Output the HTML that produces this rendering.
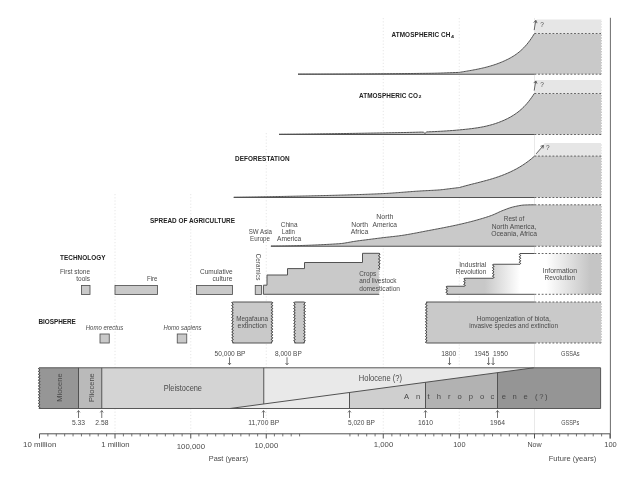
<!DOCTYPE html>
<html><head><meta charset="utf-8"><title>Anthropocene timeline</title>
<style>
html,body{margin:0;padding:0;background:#fff;}
body{width:640px;height:480px;overflow:hidden;}
svg{display:block;will-change:transform;font-family:"Liberation Sans",sans-serif;}
</style></head><body>
<svg width="640" height="480" viewBox="0 0 640 480">
<rect width="640" height="480" fill="#ffffff"/>
<line x1="115" y1="194" x2="115" y2="434" stroke="#e0e0e0" stroke-width="0.8" stroke-dasharray="1.2 2"/>
<line x1="190.75" y1="194" x2="190.75" y2="434" stroke="#e0e0e0" stroke-width="0.8" stroke-dasharray="1.2 2"/>
<line x1="266.25" y1="133" x2="266.25" y2="434" stroke="#e0e0e0" stroke-width="0.8" stroke-dasharray="1.2 2"/>
<line x1="383.25" y1="18" x2="383.25" y2="434" stroke="#e0e0e0" stroke-width="0.8" stroke-dasharray="1.2 2"/>
<line x1="459.25" y1="18" x2="459.25" y2="434" stroke="#e0e0e0" stroke-width="0.8" stroke-dasharray="1.2 2"/>
<line x1="534.5" y1="18" x2="534.5" y2="434" stroke="#e3e3e3" stroke-width="0.8"/>
<path d="M298.0,74.1 L299.5,74.1 L301.0,74.1 L302.5,74.1 L304.0,74.1 L305.5,74.1 L307.0,74.1 L308.5,74.09 L310.0,74.09 L311.5,74.09 L313.0,74.09 L314.5,74.09 L316.0,74.08 L317.5,74.08 L319.0,74.08 L320.5,74.08 L322.0,74.07 L323.5,74.07 L325.0,74.07 L326.5,74.06 L328.0,74.06 L329.5,74.05 L331.0,74.05 L332.5,74.04 L334.0,74.04 L335.5,74.03 L337.0,74.03 L338.5,74.02 L340.0,74.02 L341.5,74.01 L343.0,74.0 L344.5,74.0 L346.0,73.99 L347.5,73.98 L349.0,73.98 L350.5,73.97 L352.0,73.96 L353.5,73.95 L355.0,73.95 L356.5,73.94 L358.0,73.93 L359.5,73.92 L361.0,73.91 L362.5,73.9 L364.0,73.89 L365.5,73.89 L367.0,73.88 L368.5,73.87 L370.0,73.86 L371.5,73.85 L373.0,73.84 L374.5,73.83 L376.0,73.81 L377.5,73.8 L379.0,73.79 L380.5,73.78 L382.0,73.77 L383.5,73.76 L385.0,73.75 L386.5,73.73 L388.0,73.72 L389.5,73.71 L391.0,73.7 L392.5,73.68 L394.0,73.67 L395.5,73.66 L397.0,73.64 L398.5,73.63 L400.0,73.62 L401.5,73.6 L403.0,73.59 L404.5,73.57 L406.0,73.56 L407.5,73.54 L409.0,73.53 L410.5,73.51 L412.0,73.5 L413.5,73.48 L415.0,73.47 L416.5,73.45 L418.0,73.44 L419.5,73.42 L421.0,73.4 L422.5,73.39 L424.0,73.37 L425.5,73.35 L427.0,73.34 L428.5,73.32 L430.0,73.3 L431.5,73.28 L433.0,73.25 L434.5,73.23 L436.0,73.19 L437.5,73.15 L439.0,73.11 L440.5,73.07 L442.0,73.02 L443.5,72.97 L445.0,72.92 L446.5,72.87 L448.0,72.81 L449.5,72.76 L451.0,72.7 L452.5,72.65 L454.0,72.59 L455.5,72.53 L457.0,72.48 L458.5,72.42 L459.2,72.4 L460.7,72.15 L462.2,71.91 L463.7,71.66 L465.2,71.41 L466.7,71.16 L468.2,70.9 L469.7,70.64 L471.2,70.38 L472.7,70.1 L474.2,69.82 L475.7,69.54 L477.2,69.24 L478.7,68.93 L480.2,68.61 L481.7,68.27 L483.2,67.93 L484.7,67.57 L486.2,67.19 L487.7,66.79 L489.2,66.38 L490.7,65.95 L492.2,65.49 L493.7,65.02 L495.2,64.52 L496.7,64.0 L498.2,63.45 L499.7,62.87 L501.2,62.27 L502.7,61.64 L504.2,60.98 L505.7,60.28 L507.2,59.56 L508.7,58.8 L510.2,58.0 L511.7,57.15 L513.2,56.25 L514.7,55.29 L516.2,54.26 L517.7,53.15 L519.2,51.96 L520.7,50.68 L522.2,49.31 L523.7,47.82 L525.2,46.23 L526.7,44.52 L528.2,42.68 L529.7,40.7 L531.2,38.58 L532.7,36.31 L534.2,33.95 L534.3,33.8 L534.5,33.5 L602.0,33.5 L602.0,74.2 L298.0,74.2 Z" fill="#c9c9c9"/>
<path d="M534.5,33.5 L536.6,19.5 L602.0,19.5 L602.0,33.5 Z" fill="#e6e6e6"/>
<path d="M298.0,74.1 L299.5,74.1 L301.0,74.1 L302.5,74.1 L304.0,74.1 L305.5,74.1 L307.0,74.1 L308.5,74.09 L310.0,74.09 L311.5,74.09 L313.0,74.09 L314.5,74.09 L316.0,74.08 L317.5,74.08 L319.0,74.08 L320.5,74.08 L322.0,74.07 L323.5,74.07 L325.0,74.07 L326.5,74.06 L328.0,74.06 L329.5,74.05 L331.0,74.05 L332.5,74.04 L334.0,74.04 L335.5,74.03 L337.0,74.03 L338.5,74.02 L340.0,74.02 L341.5,74.01 L343.0,74.0 L344.5,74.0 L346.0,73.99 L347.5,73.98 L349.0,73.98 L350.5,73.97 L352.0,73.96 L353.5,73.95 L355.0,73.95 L356.5,73.94 L358.0,73.93 L359.5,73.92 L361.0,73.91 L362.5,73.9 L364.0,73.89 L365.5,73.89 L367.0,73.88 L368.5,73.87 L370.0,73.86 L371.5,73.85 L373.0,73.84 L374.5,73.83 L376.0,73.81 L377.5,73.8 L379.0,73.79 L380.5,73.78 L382.0,73.77 L383.5,73.76 L385.0,73.75 L386.5,73.73 L388.0,73.72 L389.5,73.71 L391.0,73.7 L392.5,73.68 L394.0,73.67 L395.5,73.66 L397.0,73.64 L398.5,73.63 L400.0,73.62 L401.5,73.6 L403.0,73.59 L404.5,73.57 L406.0,73.56 L407.5,73.54 L409.0,73.53 L410.5,73.51 L412.0,73.5 L413.5,73.48 L415.0,73.47 L416.5,73.45 L418.0,73.44 L419.5,73.42 L421.0,73.4 L422.5,73.39 L424.0,73.37 L425.5,73.35 L427.0,73.34 L428.5,73.32 L430.0,73.3 L431.5,73.28 L433.0,73.25 L434.5,73.23 L436.0,73.19 L437.5,73.15 L439.0,73.11 L440.5,73.07 L442.0,73.02 L443.5,72.97 L445.0,72.92 L446.5,72.87 L448.0,72.81 L449.5,72.76 L451.0,72.7 L452.5,72.65 L454.0,72.59 L455.5,72.53 L457.0,72.48 L458.5,72.42 L459.2,72.4 L460.7,72.15 L462.2,71.91 L463.7,71.66 L465.2,71.41 L466.7,71.16 L468.2,70.9 L469.7,70.64 L471.2,70.38 L472.7,70.1 L474.2,69.82 L475.7,69.54 L477.2,69.24 L478.7,68.93 L480.2,68.61 L481.7,68.27 L483.2,67.93 L484.7,67.57 L486.2,67.19 L487.7,66.79 L489.2,66.38 L490.7,65.95 L492.2,65.49 L493.7,65.02 L495.2,64.52 L496.7,64.0 L498.2,63.45 L499.7,62.87 L501.2,62.27 L502.7,61.64 L504.2,60.98 L505.7,60.28 L507.2,59.56 L508.7,58.8 L510.2,58.0 L511.7,57.15 L513.2,56.25 L514.7,55.29 L516.2,54.26 L517.7,53.15 L519.2,51.96 L520.7,50.68 L522.2,49.31 L523.7,47.82 L525.2,46.23 L526.7,44.52 L528.2,42.68 L529.7,40.7 L531.2,38.58 L532.7,36.31 L534.2,33.95 L534.3,33.8 L534.5,33.5" fill="none" stroke="#525252" stroke-width="1" stroke-linejoin="round"/>
<line x1="298.0" y1="74.2" x2="534.5" y2="74.2" stroke="#525252" stroke-width="1.1"/>
<line x1="534.5" y1="33.5" x2="601.25" y2="33.5" stroke="#525252" stroke-width="0.9" stroke-dasharray="1.8 1.8"/>
<line x1="534.5" y1="74.2" x2="601.25" y2="74.2" stroke="#525252" stroke-width="0.9" stroke-dasharray="1.8 1.8"/>
<line x1="601.55" y1="19.5" x2="601.55" y2="74.2" stroke="#ffffff" stroke-width="1.1" stroke-dasharray="1.3 1.45"/>
<path d="M279.0,134.2 L280.5,134.19 L282.0,134.18 L283.5,134.18 L285.0,134.17 L286.5,134.16 L288.0,134.15 L289.5,134.14 L291.0,134.13 L292.5,134.12 L294.0,134.11 L295.5,134.1 L297.0,134.08 L298.5,134.07 L300.0,134.06 L301.5,134.05 L303.0,134.03 L304.5,134.02 L306.0,134.0 L307.5,133.99 L309.0,133.97 L310.5,133.96 L312.0,133.94 L313.5,133.93 L315.0,133.91 L316.5,133.89 L318.0,133.88 L319.5,133.86 L321.0,133.84 L322.5,133.82 L324.0,133.81 L325.5,133.79 L327.0,133.77 L328.5,133.75 L330.0,133.73 L331.5,133.71 L333.0,133.69 L334.5,133.67 L336.0,133.65 L337.5,133.63 L339.0,133.61 L340.5,133.59 L342.0,133.57 L343.5,133.54 L345.0,133.52 L346.5,133.5 L348.0,133.48 L349.5,133.45 L351.0,133.43 L352.5,133.41 L354.0,133.39 L355.5,133.36 L357.0,133.34 L358.5,133.31 L360.0,133.29 L361.5,133.27 L363.0,133.24 L364.5,133.22 L366.0,133.19 L367.5,133.17 L369.0,133.14 L370.5,133.12 L372.0,133.09 L373.5,133.07 L375.0,133.04 L376.5,133.02 L378.0,132.99 L379.5,132.96 L381.0,132.94 L382.5,132.91 L384.0,132.88 L385.5,132.86 L387.0,132.83 L388.5,132.81 L390.0,132.78 L391.5,132.75 L393.0,132.73 L394.5,132.7 L396.0,132.67 L397.5,132.64 L399.0,132.62 L400.5,132.59 L402.0,132.56 L403.5,132.53 L405.0,132.5 L406.5,132.47 L408.0,132.43 L409.5,132.4 L411.0,132.36 L412.5,132.33 L414.0,132.29 L415.5,132.25 L417.0,132.21 L418.5,132.18 L420.0,132.14 L421.5,132.1 L423.4,132.2 L425,133.5 L426.6,132.0 L427.0,131.9 L428.5,131.84 L430.0,131.78 L431.5,131.72 L433.0,131.65 L434.5,131.58 L436.0,131.51 L437.5,131.43 L439.0,131.35 L440.5,131.27 L442.0,131.19 L443.5,131.1 L445.0,131.01 L446.5,130.91 L448.0,130.81 L449.5,130.71 L451.0,130.6 L452.5,130.49 L454.0,130.38 L455.0,130.3 L456.5,130.16 L458.0,130.02 L459.5,129.89 L461.0,129.75 L462.5,129.6 L464.0,129.46 L465.5,129.3 L467.0,129.15 L468.5,128.98 L470.0,128.81 L471.5,128.63 L473.0,128.43 L474.5,128.23 L476.0,128.01 L477.5,127.78 L479.0,127.54 L480.5,127.28 L482.0,127.0 L483.5,126.7 L485.0,126.38 L486.5,126.05 L488.0,125.69 L489.5,125.31 L491.0,124.91 L492.5,124.48 L494.0,124.02 L495.5,123.54 L497.0,123.03 L498.5,122.49 L500.0,121.92 L501.5,121.32 L503.0,120.69 L504.5,120.02 L506.0,119.32 L507.5,118.58 L509.0,117.81 L510.5,116.99 L512.0,116.12 L513.5,115.2 L515.0,114.22 L516.5,113.17 L518.0,112.05 L519.5,110.84 L521.0,109.56 L522.5,108.18 L524.0,106.71 L525.5,105.13 L527.0,103.45 L528.5,101.65 L530.0,99.73 L531.5,97.68 L533.0,95.51 L534.3,93.51 L534.5,93.5 L602.0,93.5 L602.0,134.5 L279.0,134.5 Z" fill="#c9c9c9"/>
<path d="M534.5,93.5 L536.6,80 L602.0,80 L602.0,93.5 Z" fill="#e6e6e6"/>
<path d="M279.0,134.2 L280.5,134.19 L282.0,134.18 L283.5,134.18 L285.0,134.17 L286.5,134.16 L288.0,134.15 L289.5,134.14 L291.0,134.13 L292.5,134.12 L294.0,134.11 L295.5,134.1 L297.0,134.08 L298.5,134.07 L300.0,134.06 L301.5,134.05 L303.0,134.03 L304.5,134.02 L306.0,134.0 L307.5,133.99 L309.0,133.97 L310.5,133.96 L312.0,133.94 L313.5,133.93 L315.0,133.91 L316.5,133.89 L318.0,133.88 L319.5,133.86 L321.0,133.84 L322.5,133.82 L324.0,133.81 L325.5,133.79 L327.0,133.77 L328.5,133.75 L330.0,133.73 L331.5,133.71 L333.0,133.69 L334.5,133.67 L336.0,133.65 L337.5,133.63 L339.0,133.61 L340.5,133.59 L342.0,133.57 L343.5,133.54 L345.0,133.52 L346.5,133.5 L348.0,133.48 L349.5,133.45 L351.0,133.43 L352.5,133.41 L354.0,133.39 L355.5,133.36 L357.0,133.34 L358.5,133.31 L360.0,133.29 L361.5,133.27 L363.0,133.24 L364.5,133.22 L366.0,133.19 L367.5,133.17 L369.0,133.14 L370.5,133.12 L372.0,133.09 L373.5,133.07 L375.0,133.04 L376.5,133.02 L378.0,132.99 L379.5,132.96 L381.0,132.94 L382.5,132.91 L384.0,132.88 L385.5,132.86 L387.0,132.83 L388.5,132.81 L390.0,132.78 L391.5,132.75 L393.0,132.73 L394.5,132.7 L396.0,132.67 L397.5,132.64 L399.0,132.62 L400.5,132.59 L402.0,132.56 L403.5,132.53 L405.0,132.5 L406.5,132.47 L408.0,132.43 L409.5,132.4 L411.0,132.36 L412.5,132.33 L414.0,132.29 L415.5,132.25 L417.0,132.21 L418.5,132.18 L420.0,132.14 L421.5,132.1 L423.4,132.2 L425,133.5 L426.6,132.0 L427.0,131.9 L428.5,131.84 L430.0,131.78 L431.5,131.72 L433.0,131.65 L434.5,131.58 L436.0,131.51 L437.5,131.43 L439.0,131.35 L440.5,131.27 L442.0,131.19 L443.5,131.1 L445.0,131.01 L446.5,130.91 L448.0,130.81 L449.5,130.71 L451.0,130.6 L452.5,130.49 L454.0,130.38 L455.0,130.3 L456.5,130.16 L458.0,130.02 L459.5,129.89 L461.0,129.75 L462.5,129.6 L464.0,129.46 L465.5,129.3 L467.0,129.15 L468.5,128.98 L470.0,128.81 L471.5,128.63 L473.0,128.43 L474.5,128.23 L476.0,128.01 L477.5,127.78 L479.0,127.54 L480.5,127.28 L482.0,127.0 L483.5,126.7 L485.0,126.38 L486.5,126.05 L488.0,125.69 L489.5,125.31 L491.0,124.91 L492.5,124.48 L494.0,124.02 L495.5,123.54 L497.0,123.03 L498.5,122.49 L500.0,121.92 L501.5,121.32 L503.0,120.69 L504.5,120.02 L506.0,119.32 L507.5,118.58 L509.0,117.81 L510.5,116.99 L512.0,116.12 L513.5,115.2 L515.0,114.22 L516.5,113.17 L518.0,112.05 L519.5,110.84 L521.0,109.56 L522.5,108.18 L524.0,106.71 L525.5,105.13 L527.0,103.45 L528.5,101.65 L530.0,99.73 L531.5,97.68 L533.0,95.51 L534.3,93.51 L534.5,93.5" fill="none" stroke="#525252" stroke-width="1" stroke-linejoin="round"/>
<line x1="279.0" y1="134.5" x2="534.5" y2="134.5" stroke="#525252" stroke-width="1.1"/>
<line x1="534.5" y1="93.5" x2="601.25" y2="93.5" stroke="#525252" stroke-width="0.9" stroke-dasharray="1.8 1.8"/>
<line x1="534.5" y1="134.5" x2="601.25" y2="134.5" stroke="#525252" stroke-width="0.9" stroke-dasharray="1.8 1.8"/>
<line x1="601.55" y1="80" x2="601.55" y2="134.5" stroke="#ffffff" stroke-width="1.1" stroke-dasharray="1.3 1.45"/>
<path d="M233.75,197.2 L235.25,197.18 L236.75,197.17 L238.25,197.15 L239.75,197.13 L241.25,197.11 L242.75,197.09 L244.25,197.07 L245.75,197.06 L247.25,197.04 L248.75,197.01 L250.25,196.99 L251.75,196.97 L253.25,196.95 L254.75,196.93 L256.25,196.91 L257.75,196.88 L259.25,196.86 L260.75,196.84 L262.25,196.81 L263.75,196.79 L265.25,196.76 L266.75,196.74 L268.25,196.71 L269.75,196.69 L271.25,196.66 L272.75,196.63 L274.25,196.61 L275.75,196.58 L277.25,196.55 L278.75,196.52 L280.25,196.49 L281.75,196.47 L283.25,196.44 L284.75,196.41 L286.25,196.38 L287.75,196.35 L289.25,196.32 L290.75,196.29 L292.25,196.26 L293.75,196.23 L295.25,196.2 L296.75,196.17 L298.25,196.14 L299.75,196.11 L301.25,196.07 L302.75,196.04 L304.25,196.01 L305.75,195.98 L307.25,195.95 L308.75,195.91 L310.25,195.88 L311.75,195.85 L313.25,195.81 L314.75,195.78 L316.25,195.74 L317.75,195.71 L319.25,195.68 L320.75,195.64 L322.25,195.6 L323.75,195.57 L325.25,195.53 L326.75,195.49 L328.25,195.46 L329.75,195.42 L331.25,195.38 L332.75,195.34 L334.25,195.3 L335.75,195.26 L337.25,195.22 L338.75,195.18 L340.25,195.14 L341.75,195.1 L343.25,195.05 L344.75,195.01 L346.25,194.96 L347.75,194.92 L349.25,194.87 L350.75,194.83 L352.25,194.78 L353.75,194.73 L355.25,194.68 L356.75,194.63 L358.25,194.58 L359.75,194.53 L361.25,194.48 L362.75,194.43 L364.25,194.37 L365.75,194.32 L367.25,194.26 L368.75,194.21 L370.25,194.15 L371.75,194.09 L373.25,194.03 L374.75,193.97 L376.25,193.91 L377.75,193.85 L379.25,193.78 L380.75,193.72 L382.25,193.65 L383.75,193.57 L385.25,193.49 L386.75,193.4 L388.25,193.31 L389.75,193.21 L391.25,193.11 L392.75,193.01 L394.25,192.9 L395.75,192.79 L397.25,192.68 L398.75,192.57 L400.25,192.45 L401.75,192.33 L403.25,192.22 L404.75,192.1 L406.25,191.99 L407.75,191.87 L409.25,191.75 L410.75,191.64 L412.25,191.53 L413.75,191.42 L415.25,191.31 L416.75,191.21 L418.25,191.11 L419.75,191.02 L421.25,190.92 L422.75,190.84 L424.25,190.76 L425.75,190.68 L427.25,190.61 L428.75,190.53 L430.25,190.46 L431.75,190.38 L433.25,190.3 L434.75,190.21 L436.25,190.12 L437.75,190.02 L439.25,189.91 L440.75,189.79 L442.25,189.64 L443.75,189.46 L445.25,189.28 L446.75,189.08 L448.25,188.89 L449.75,188.71 L451.25,188.53 L452.75,188.34 L454.25,188.16 L455.75,187.97 L457.25,187.78 L458.75,187.6 L459.5,187.5 L461.0,187.07 L462.5,186.65 L464.0,186.24 L465.5,185.84 L467.0,185.44 L468.5,185.05 L470.0,184.66 L471.5,184.28 L473.0,183.9 L474.5,183.52 L476.0,183.14 L477.5,182.76 L479.0,182.38 L480.5,181.99 L482.0,181.6 L483.5,181.21 L485.0,180.81 L486.5,180.4 L488.0,179.98 L489.5,179.55 L491.0,179.11 L492.5,178.66 L494.0,178.19 L495.5,177.71 L497.0,177.21 L498.5,176.7 L500.0,176.17 L501.5,175.62 L503.0,175.05 L504.5,174.46 L506.0,173.84 L507.5,173.21 L509.0,172.54 L510.5,171.85 L512.0,171.14 L513.5,170.39 L515.0,169.62 L516.5,168.82 L518.0,167.98 L519.5,167.11 L521.0,166.21 L522.5,165.27 L524.0,164.29 L525.5,163.26 L527.0,162.2 L528.5,161.08 L530.0,159.92 L531.5,158.7 L533.0,157.43 L534.5,156.11 L602.0,156.1 L602.0,197.5 L233.75,197.5 Z" fill="#c9c9c9"/>
<path d="M534.5,156.1 L544.6,143 L602.0,143 L602.0,156.1 Z" fill="#e6e6e6"/>
<path d="M233.75,197.2 L235.25,197.18 L236.75,197.17 L238.25,197.15 L239.75,197.13 L241.25,197.11 L242.75,197.09 L244.25,197.07 L245.75,197.06 L247.25,197.04 L248.75,197.01 L250.25,196.99 L251.75,196.97 L253.25,196.95 L254.75,196.93 L256.25,196.91 L257.75,196.88 L259.25,196.86 L260.75,196.84 L262.25,196.81 L263.75,196.79 L265.25,196.76 L266.75,196.74 L268.25,196.71 L269.75,196.69 L271.25,196.66 L272.75,196.63 L274.25,196.61 L275.75,196.58 L277.25,196.55 L278.75,196.52 L280.25,196.49 L281.75,196.47 L283.25,196.44 L284.75,196.41 L286.25,196.38 L287.75,196.35 L289.25,196.32 L290.75,196.29 L292.25,196.26 L293.75,196.23 L295.25,196.2 L296.75,196.17 L298.25,196.14 L299.75,196.11 L301.25,196.07 L302.75,196.04 L304.25,196.01 L305.75,195.98 L307.25,195.95 L308.75,195.91 L310.25,195.88 L311.75,195.85 L313.25,195.81 L314.75,195.78 L316.25,195.74 L317.75,195.71 L319.25,195.68 L320.75,195.64 L322.25,195.6 L323.75,195.57 L325.25,195.53 L326.75,195.49 L328.25,195.46 L329.75,195.42 L331.25,195.38 L332.75,195.34 L334.25,195.3 L335.75,195.26 L337.25,195.22 L338.75,195.18 L340.25,195.14 L341.75,195.1 L343.25,195.05 L344.75,195.01 L346.25,194.96 L347.75,194.92 L349.25,194.87 L350.75,194.83 L352.25,194.78 L353.75,194.73 L355.25,194.68 L356.75,194.63 L358.25,194.58 L359.75,194.53 L361.25,194.48 L362.75,194.43 L364.25,194.37 L365.75,194.32 L367.25,194.26 L368.75,194.21 L370.25,194.15 L371.75,194.09 L373.25,194.03 L374.75,193.97 L376.25,193.91 L377.75,193.85 L379.25,193.78 L380.75,193.72 L382.25,193.65 L383.75,193.57 L385.25,193.49 L386.75,193.4 L388.25,193.31 L389.75,193.21 L391.25,193.11 L392.75,193.01 L394.25,192.9 L395.75,192.79 L397.25,192.68 L398.75,192.57 L400.25,192.45 L401.75,192.33 L403.25,192.22 L404.75,192.1 L406.25,191.99 L407.75,191.87 L409.25,191.75 L410.75,191.64 L412.25,191.53 L413.75,191.42 L415.25,191.31 L416.75,191.21 L418.25,191.11 L419.75,191.02 L421.25,190.92 L422.75,190.84 L424.25,190.76 L425.75,190.68 L427.25,190.61 L428.75,190.53 L430.25,190.46 L431.75,190.38 L433.25,190.3 L434.75,190.21 L436.25,190.12 L437.75,190.02 L439.25,189.91 L440.75,189.79 L442.25,189.64 L443.75,189.46 L445.25,189.28 L446.75,189.08 L448.25,188.89 L449.75,188.71 L451.25,188.53 L452.75,188.34 L454.25,188.16 L455.75,187.97 L457.25,187.78 L458.75,187.6 L459.5,187.5 L461.0,187.07 L462.5,186.65 L464.0,186.24 L465.5,185.84 L467.0,185.44 L468.5,185.05 L470.0,184.66 L471.5,184.28 L473.0,183.9 L474.5,183.52 L476.0,183.14 L477.5,182.76 L479.0,182.38 L480.5,181.99 L482.0,181.6 L483.5,181.21 L485.0,180.81 L486.5,180.4 L488.0,179.98 L489.5,179.55 L491.0,179.11 L492.5,178.66 L494.0,178.19 L495.5,177.71 L497.0,177.21 L498.5,176.7 L500.0,176.17 L501.5,175.62 L503.0,175.05 L504.5,174.46 L506.0,173.84 L507.5,173.21 L509.0,172.54 L510.5,171.85 L512.0,171.14 L513.5,170.39 L515.0,169.62 L516.5,168.82 L518.0,167.98 L519.5,167.11 L521.0,166.21 L522.5,165.27 L524.0,164.29 L525.5,163.26 L527.0,162.2 L528.5,161.08 L530.0,159.92 L531.5,158.7 L533.0,157.43 L534.5,156.11" fill="none" stroke="#525252" stroke-width="1" stroke-linejoin="round"/>
<line x1="233.75" y1="197.5" x2="534.5" y2="197.5" stroke="#525252" stroke-width="1.1"/>
<line x1="534.5" y1="156.1" x2="601.25" y2="156.1" stroke="#525252" stroke-width="0.9" stroke-dasharray="1.8 1.8"/>
<line x1="534.5" y1="197.5" x2="601.25" y2="197.5" stroke="#525252" stroke-width="0.9" stroke-dasharray="1.8 1.8"/>
<line x1="601.55" y1="143" x2="601.55" y2="197.5" stroke="#ffffff" stroke-width="1.1" stroke-dasharray="1.3 1.45"/>
<path d="M270.9,246.0 L272.4,246.0 L273.9,246.0 L275.4,245.99 L276.9,245.98 L278.4,245.97 L279.9,245.96 L281.4,245.94 L282.9,245.92 L284.4,245.9 L285.9,245.88 L287.4,245.85 L288.9,245.83 L290.4,245.8 L291.9,245.77 L293.4,245.73 L294.9,245.7 L296.4,245.66 L297.9,245.62 L299.4,245.57 L300.9,245.53 L302.4,245.48 L303.9,245.43 L305.4,245.38 L306.9,245.33 L308.4,245.27 L309.9,245.22 L311.4,245.16 L312.9,245.1 L314.4,245.03 L315.9,244.97 L317.4,244.9 L318.9,244.83 L320.4,244.76 L321.9,244.69 L323.4,244.62 L324.9,244.54 L326.4,244.46 L327.9,244.38 L329.4,244.3 L330.9,244.22 L332.4,244.13 L333.9,244.04 L335.4,243.95 L336.9,243.86 L338.4,243.77 L339.9,243.66 L341.4,243.51 L342.9,243.33 L344.4,243.11 L345.9,242.87 L347.4,242.61 L348.9,242.34 L350.4,242.07 L351.9,241.8 L353.4,241.54 L354.9,241.3 L356.4,241.08 L357.9,240.87 L359.4,240.67 L360.9,240.48 L362.4,240.29 L363.9,240.1 L365.4,239.91 L366.9,239.72 L368.4,239.53 L369.9,239.34 L371.4,239.14 L372.9,238.95 L374.4,238.76 L375.9,238.56 L377.4,238.37 L378.9,238.18 L380.4,237.99 L381.9,237.81 L383.4,237.62 L384.9,237.45 L386.4,237.27 L387.9,237.11 L389.4,236.94 L390.9,236.78 L392.4,236.62 L393.9,236.45 L395.4,236.28 L396.9,236.1 L398.4,235.91 L399.9,235.71 L401.4,235.5 L402.9,235.28 L404.4,235.05 L405.9,234.8 L407.4,234.55 L408.9,234.29 L410.4,234.03 L411.9,233.76 L413.4,233.48 L414.9,233.2 L416.4,232.91 L417.9,232.63 L419.4,232.34 L420.9,232.04 L422.4,231.75 L423.9,231.46 L425.4,231.17 L426.9,230.88 L428.4,230.6 L429.9,230.32 L431.4,230.03 L432.9,229.75 L434.4,229.47 L435.9,229.18 L437.4,228.9 L438.9,228.61 L440.4,228.33 L441.9,228.04 L443.4,227.74 L444.9,227.45 L446.4,227.15 L447.9,226.85 L449.4,226.55 L450.9,226.24 L452.4,225.93 L453.9,225.61 L455.4,225.29 L456.9,224.97 L458.4,224.63 L459.9,224.3 L461.4,223.95 L462.9,223.61 L464.4,223.25 L465.9,222.89 L467.4,222.52 L468.9,222.14 L470.4,221.76 L471.9,221.37 L473.4,220.97 L474.9,220.57 L476.4,220.16 L477.9,219.74 L479.4,219.31 L480.9,218.88 L482.4,218.43 L483.9,217.98 L485.4,217.52 L486.9,217.03 L488.4,216.54 L489.9,216.02 L491.4,215.48 L492.9,214.91 L494.4,214.28 L495.9,213.6 L497.4,212.89 L498.9,212.19 L500.4,211.5 L501.9,210.86 L503.4,210.27 L504.9,209.69 L506.4,209.12 L507.9,208.56 L509.4,208.04 L510.9,207.56 L512.4,207.13 L513.9,206.77 L515.4,206.43 L516.9,206.11 L518.4,205.8 L519.9,205.53 L521.4,205.3 L522.9,205.12 L524.4,205.01 L525.9,204.96 L527.4,204.91 L528.9,204.87 L530.4,204.84 L531.9,204.82 L533.4,204.8 L534.5,204.8 L602.0,204.8 L602.0,246.25 L270.9,246.25 Z" fill="#c9c9c9"/>
<path d="M270.9,246.0 L272.4,246.0 L273.9,246.0 L275.4,245.99 L276.9,245.98 L278.4,245.97 L279.9,245.96 L281.4,245.94 L282.9,245.92 L284.4,245.9 L285.9,245.88 L287.4,245.85 L288.9,245.83 L290.4,245.8 L291.9,245.77 L293.4,245.73 L294.9,245.7 L296.4,245.66 L297.9,245.62 L299.4,245.57 L300.9,245.53 L302.4,245.48 L303.9,245.43 L305.4,245.38 L306.9,245.33 L308.4,245.27 L309.9,245.22 L311.4,245.16 L312.9,245.1 L314.4,245.03 L315.9,244.97 L317.4,244.9 L318.9,244.83 L320.4,244.76 L321.9,244.69 L323.4,244.62 L324.9,244.54 L326.4,244.46 L327.9,244.38 L329.4,244.3 L330.9,244.22 L332.4,244.13 L333.9,244.04 L335.4,243.95 L336.9,243.86 L338.4,243.77 L339.9,243.66 L341.4,243.51 L342.9,243.33 L344.4,243.11 L345.9,242.87 L347.4,242.61 L348.9,242.34 L350.4,242.07 L351.9,241.8 L353.4,241.54 L354.9,241.3 L356.4,241.08 L357.9,240.87 L359.4,240.67 L360.9,240.48 L362.4,240.29 L363.9,240.1 L365.4,239.91 L366.9,239.72 L368.4,239.53 L369.9,239.34 L371.4,239.14 L372.9,238.95 L374.4,238.76 L375.9,238.56 L377.4,238.37 L378.9,238.18 L380.4,237.99 L381.9,237.81 L383.4,237.62 L384.9,237.45 L386.4,237.27 L387.9,237.11 L389.4,236.94 L390.9,236.78 L392.4,236.62 L393.9,236.45 L395.4,236.28 L396.9,236.1 L398.4,235.91 L399.9,235.71 L401.4,235.5 L402.9,235.28 L404.4,235.05 L405.9,234.8 L407.4,234.55 L408.9,234.29 L410.4,234.03 L411.9,233.76 L413.4,233.48 L414.9,233.2 L416.4,232.91 L417.9,232.63 L419.4,232.34 L420.9,232.04 L422.4,231.75 L423.9,231.46 L425.4,231.17 L426.9,230.88 L428.4,230.6 L429.9,230.32 L431.4,230.03 L432.9,229.75 L434.4,229.47 L435.9,229.18 L437.4,228.9 L438.9,228.61 L440.4,228.33 L441.9,228.04 L443.4,227.74 L444.9,227.45 L446.4,227.15 L447.9,226.85 L449.4,226.55 L450.9,226.24 L452.4,225.93 L453.9,225.61 L455.4,225.29 L456.9,224.97 L458.4,224.63 L459.9,224.3 L461.4,223.95 L462.9,223.61 L464.4,223.25 L465.9,222.89 L467.4,222.52 L468.9,222.14 L470.4,221.76 L471.9,221.37 L473.4,220.97 L474.9,220.57 L476.4,220.16 L477.9,219.74 L479.4,219.31 L480.9,218.88 L482.4,218.43 L483.9,217.98 L485.4,217.52 L486.9,217.03 L488.4,216.54 L489.9,216.02 L491.4,215.48 L492.9,214.91 L494.4,214.28 L495.9,213.6 L497.4,212.89 L498.9,212.19 L500.4,211.5 L501.9,210.86 L503.4,210.27 L504.9,209.69 L506.4,209.12 L507.9,208.56 L509.4,208.04 L510.9,207.56 L512.4,207.13 L513.9,206.77 L515.4,206.43 L516.9,206.11 L518.4,205.8 L519.9,205.53 L521.4,205.3 L522.9,205.12 L524.4,205.01 L525.9,204.96 L527.4,204.91 L528.9,204.87 L530.4,204.84 L531.9,204.82 L533.4,204.8 L534.5,204.8" fill="none" stroke="#525252" stroke-width="1" stroke-linejoin="round"/>
<line x1="270.9" y1="246.25" x2="534.5" y2="246.25" stroke="#525252" stroke-width="1.1"/>
<line x1="534.5" y1="204.8" x2="601.25" y2="204.8" stroke="#525252" stroke-width="0.9" stroke-dasharray="1.8 1.8"/>
<line x1="534.5" y1="246.25" x2="601.25" y2="246.25" stroke="#525252" stroke-width="0.9" stroke-dasharray="1.8 1.8"/>
<line x1="601.55" y1="204.8" x2="601.55" y2="246.25" stroke="#ffffff" stroke-width="1.1" stroke-dasharray="1.3 1.45"/>
<line x1="534.2" y1="30.1" x2="535.8" y2="20.4" stroke="#525252" stroke-width="0.9"/>
<line x1="535.8" y1="20.4" x2="537.05" y2="23.13" stroke="#525252" stroke-width="0.9"/>
<line x1="535.8" y1="20.4" x2="533.74" y2="22.58" stroke="#525252" stroke-width="0.9"/>
<line x1="534.2" y1="90.6" x2="535.8" y2="80.9" stroke="#525252" stroke-width="0.9"/>
<line x1="535.8" y1="80.9" x2="537.05" y2="83.63" stroke="#525252" stroke-width="0.9"/>
<line x1="535.8" y1="80.9" x2="533.74" y2="83.08" stroke="#525252" stroke-width="0.9"/>
<line x1="536.1" y1="153.9" x2="543.4" y2="145.5" stroke="#525252" stroke-width="0.9"/>
<line x1="543.4" y1="145.5" x2="543.03" y2="148.48" stroke="#525252" stroke-width="0.9"/>
<line x1="543.4" y1="145.5" x2="540.50" y2="146.28" stroke="#525252" stroke-width="0.9"/>
<rect x="81.5" y="285.5" width="8.5" height="9.0" fill="#c9c9c9" stroke="#525252" stroke-width="0.85"/>
<rect x="115" y="285.5" width="42.5" height="9.0" fill="#c9c9c9" stroke="#525252" stroke-width="0.85"/>
<rect x="196.5" y="285.5" width="36.0" height="9.0" fill="#c9c9c9" stroke="#525252" stroke-width="0.85"/>
<rect x="255.25" y="285.5" width="6.25" height="9.0" fill="#c9c9c9" stroke="#525252" stroke-width="0.85"/>
<rect x="100" y="334" width="9.25" height="9" fill="#c9c9c9" stroke="#525252" stroke-width="0.85"/>
<rect x="177.25" y="334" width="9.5" height="9" fill="#c9c9c9" stroke="#525252" stroke-width="0.85"/>
<path d="M263.4,294.3 L263.4,285.2 L267,285.2 L267,275 L287.5,275 L287.5,268.6 L304.5,268.6 L304.5,262.5 L362.5,262.5 L362.5,253.3 L379.3,253.3 Q380.45,254.03 379.30,254.76 Q378.15,255.50 379.30,256.23 Q380.45,256.96 379.30,257.69 Q378.15,258.43 379.30,259.16 Q380.45,259.89 379.30,260.62 Q378.15,261.35 379.30,262.09 Q380.45,262.82 379.30,263.55 Q378.15,264.28 379.30,265.01 Q380.45,265.75 379.30,266.48 Q378.15,267.21 379.30,267.94 Q380.45,268.68 379.30,269.41 Q378.15,270.14 379.30,270.87 Q380.45,271.60 379.30,272.34 Q378.15,273.07 379.30,273.80 Q380.45,274.53 379.30,275.26 Q378.15,276.00 379.30,276.73 Q380.45,277.46 379.30,278.19 Q378.15,278.93 379.30,279.66 Q380.45,280.39 379.30,281.12 Q378.15,281.85 379.30,282.59 Q380.45,283.32 379.30,284.05 Q378.15,284.78 379.30,285.51 Q380.45,286.25 379.30,286.98 Q378.15,287.71 379.30,288.44 Q380.45,289.18 379.30,289.91 Q378.15,290.64 379.30,291.37 Q380.45,292.10 379.30,292.84 Q378.15,293.57 379.30,294.30 Z" fill="#c9c9c9"/>
<path d="M379.3,253.3 Q380.45,254.11 379.30,254.92 Q378.15,255.73 379.30,256.54 Q380.45,257.35 379.30,258.16 Q378.15,258.97 379.30,259.78 Q380.45,260.59 379.30,261.40 Q378.15,262.21 379.30,263.02 Q380.45,263.83 379.30,264.64 Q378.15,265.45 379.30,266.26 Q380.45,267.07 379.30,267.88 Q378.15,268.69 379.30,269.50" fill="none" stroke="#525252" stroke-width="1"/>
<path d="M379.3,294.3 L263.4,294.3 L263.4,285.2 L267,285.2 L267,275 L287.5,275 L287.5,268.6 L304.5,268.6 L304.5,262.5 L362.5,262.5 L362.5,253.3 L379.3,253.3" fill="none" stroke="#525252" stroke-width="1"/>
<defs><linearGradient id="g1" gradientUnits="userSpaceOnUse" x1="446" y1="0" x2="601.25" y2="0">
<stop offset="0" stop-color="#c8c8c8"/><stop offset="0.25" stop-color="#c8c8c8"/><stop offset="0.477" stop-color="#ffffff"/><stop offset="0.644" stop-color="#ffffff"/><stop offset="0.927" stop-color="#c5c5c5"/><stop offset="1" stop-color="#c5c5c5"/></linearGradient></defs>
<path d="M446.75,294.3 Q447.90,293.63 446.75,292.96 Q445.60,292.29 446.75,291.62 Q447.90,290.95 446.75,290.27 Q445.60,289.60 446.75,288.93 Q447.90,288.26 446.75,287.59 Q445.60,286.92 446.75,286.25 L464.5,286.25 Q465.65,285.58 464.50,284.92 Q463.35,284.25 464.50,283.58 Q465.65,282.92 464.50,282.25 Q463.35,281.58 464.50,280.92 Q465.65,280.25 464.50,279.58 Q463.35,278.92 464.50,278.25 L493.25,278.25 Q494.40,277.55 493.25,276.85 Q492.10,276.15 493.25,275.45 Q494.40,274.75 493.25,274.05 Q492.10,273.35 493.25,272.65 Q494.40,271.95 493.25,271.25 Q492.10,270.55 493.25,269.85 Q494.40,269.15 493.25,268.45 Q492.10,267.75 493.25,267.05 Q494.40,266.35 493.25,265.65 Q492.10,264.95 493.25,264.25 L520,264.25 Q521.15,263.58 520.00,262.91 Q518.85,262.23 520.00,261.56 Q521.15,260.89 520.00,260.22 Q518.85,259.55 520.00,258.88 Q521.15,258.20 520.00,257.53 Q518.85,256.86 520.00,256.19 Q521.15,255.52 520.00,254.84 Q518.85,254.17 520.00,253.50 L534.5,253.5 L602.0,253.5 L602.0,294.3 Z" fill="url(#g1)"/>
<path d="M534.5,294.3 L446.75,294.3 Q447.90,293.63 446.75,292.96 Q445.60,292.29 446.75,291.62 Q447.90,290.95 446.75,290.27 Q445.60,289.60 446.75,288.93 Q447.90,288.26 446.75,287.59 Q445.60,286.92 446.75,286.25 L464.5,286.25 Q465.65,285.58 464.50,284.92 Q463.35,284.25 464.50,283.58 Q465.65,282.92 464.50,282.25 Q463.35,281.58 464.50,280.92 Q465.65,280.25 464.50,279.58 Q463.35,278.92 464.50,278.25 L493.25,278.25 Q494.40,277.55 493.25,276.85 Q492.10,276.15 493.25,275.45 Q494.40,274.75 493.25,274.05 Q492.10,273.35 493.25,272.65 Q494.40,271.95 493.25,271.25 Q492.10,270.55 493.25,269.85 Q494.40,269.15 493.25,268.45 Q492.10,267.75 493.25,267.05 Q494.40,266.35 493.25,265.65 Q492.10,264.95 493.25,264.25 L520,264.25 Q521.15,263.58 520.00,262.91 Q518.85,262.23 520.00,261.56 Q521.15,260.89 520.00,260.22 Q518.85,259.55 520.00,258.88 Q521.15,258.20 520.00,257.53 Q518.85,256.86 520.00,256.19 Q521.15,255.52 520.00,254.84 Q518.85,254.17 520.00,253.50 L534.5,253.5" fill="none" stroke="#525252" stroke-width="1"/>
<line x1="534.5" y1="253.5" x2="601.25" y2="253.5" stroke="#525252" stroke-width="0.9" stroke-dasharray="1.8 1.8"/>
<line x1="534.5" y1="294.3" x2="601.25" y2="294.3" stroke="#525252" stroke-width="0.9" stroke-dasharray="1.8 1.8"/>
<line x1="601.55" y1="253.5" x2="601.55" y2="294.3" stroke="#ffffff" stroke-width="1.1" stroke-dasharray="1.3 1.45"/>
<path d="M232.5,302 L272,302 Q273.15,302.73 272.00,303.46 Q270.85,304.20 272.00,304.93 Q273.15,305.66 272.00,306.39 Q270.85,307.12 272.00,307.86 Q273.15,308.59 272.00,309.32 Q270.85,310.05 272.00,310.79 Q273.15,311.52 272.00,312.25 Q270.85,312.98 272.00,313.71 Q273.15,314.45 272.00,315.18 Q270.85,315.91 272.00,316.64 Q273.15,317.38 272.00,318.11 Q270.85,318.84 272.00,319.57 Q273.15,320.30 272.00,321.04 Q270.85,321.77 272.00,322.50 Q273.15,323.23 272.00,323.96 Q270.85,324.70 272.00,325.43 Q273.15,326.16 272.00,326.89 Q270.85,327.63 272.00,328.36 Q273.15,329.09 272.00,329.82 Q270.85,330.55 272.00,331.29 Q273.15,332.02 272.00,332.75 Q270.85,333.48 272.00,334.21 Q273.15,334.95 272.00,335.68 Q270.85,336.41 272.00,337.14 Q273.15,337.88 272.00,338.61 Q270.85,339.34 272.00,340.07 Q273.15,340.80 272.00,341.54 Q270.85,342.27 272.00,343.00 L232.5,343 Q233.65,342.27 232.50,341.54 Q231.35,340.80 232.50,340.07 Q233.65,339.34 232.50,338.61 Q231.35,337.88 232.50,337.14 Q233.65,336.41 232.50,335.68 Q231.35,334.95 232.50,334.21 Q233.65,333.48 232.50,332.75 Q231.35,332.02 232.50,331.29 Q233.65,330.55 232.50,329.82 Q231.35,329.09 232.50,328.36 Q233.65,327.62 232.50,326.89 Q231.35,326.16 232.50,325.43 Q233.65,324.70 232.50,323.96 Q231.35,323.23 232.50,322.50 Q233.65,321.77 232.50,321.04 Q231.35,320.30 232.50,319.57 Q233.65,318.84 232.50,318.11 Q231.35,317.37 232.50,316.64 Q233.65,315.91 232.50,315.18 Q231.35,314.45 232.50,313.71 Q233.65,312.98 232.50,312.25 Q231.35,311.52 232.50,310.79 Q233.65,310.05 232.50,309.32 Q231.35,308.59 232.50,307.86 Q233.65,307.12 232.50,306.39 Q231.35,305.66 232.50,304.93 Q233.65,304.20 232.50,303.46 Q231.35,302.73 232.50,302.00 Z" fill="#c9c9c9" stroke="#525252" stroke-width="1"/>
<path d="M294.5,302 L304.5,302 Q305.65,302.73 304.50,303.46 Q303.35,304.20 304.50,304.93 Q305.65,305.66 304.50,306.39 Q303.35,307.12 304.50,307.86 Q305.65,308.59 304.50,309.32 Q303.35,310.05 304.50,310.79 Q305.65,311.52 304.50,312.25 Q303.35,312.98 304.50,313.71 Q305.65,314.45 304.50,315.18 Q303.35,315.91 304.50,316.64 Q305.65,317.38 304.50,318.11 Q303.35,318.84 304.50,319.57 Q305.65,320.30 304.50,321.04 Q303.35,321.77 304.50,322.50 Q305.65,323.23 304.50,323.96 Q303.35,324.70 304.50,325.43 Q305.65,326.16 304.50,326.89 Q303.35,327.63 304.50,328.36 Q305.65,329.09 304.50,329.82 Q303.35,330.55 304.50,331.29 Q305.65,332.02 304.50,332.75 Q303.35,333.48 304.50,334.21 Q305.65,334.95 304.50,335.68 Q303.35,336.41 304.50,337.14 Q305.65,337.88 304.50,338.61 Q303.35,339.34 304.50,340.07 Q305.65,340.80 304.50,341.54 Q303.35,342.27 304.50,343.00 L294.5,343 Q295.65,342.27 294.50,341.54 Q293.35,340.80 294.50,340.07 Q295.65,339.34 294.50,338.61 Q293.35,337.88 294.50,337.14 Q295.65,336.41 294.50,335.68 Q293.35,334.95 294.50,334.21 Q295.65,333.48 294.50,332.75 Q293.35,332.02 294.50,331.29 Q295.65,330.55 294.50,329.82 Q293.35,329.09 294.50,328.36 Q295.65,327.62 294.50,326.89 Q293.35,326.16 294.50,325.43 Q295.65,324.70 294.50,323.96 Q293.35,323.23 294.50,322.50 Q295.65,321.77 294.50,321.04 Q293.35,320.30 294.50,319.57 Q295.65,318.84 294.50,318.11 Q293.35,317.37 294.50,316.64 Q295.65,315.91 294.50,315.18 Q293.35,314.45 294.50,313.71 Q295.65,312.98 294.50,312.25 Q293.35,311.52 294.50,310.79 Q295.65,310.05 294.50,309.32 Q293.35,308.59 294.50,307.86 Q295.65,307.12 294.50,306.39 Q293.35,305.66 294.50,304.93 Q295.65,304.20 294.50,303.46 Q293.35,302.73 294.50,302.00 Z" fill="#c9c9c9" stroke="#525252" stroke-width="1"/>
<path d="M602.0,302 L426.25,302 Q427.40,302.73 426.25,303.46 Q425.10,304.20 426.25,304.93 Q427.40,305.66 426.25,306.39 Q425.10,307.12 426.25,307.86 Q427.40,308.59 426.25,309.32 Q425.10,310.05 426.25,310.79 Q427.40,311.52 426.25,312.25 Q425.10,312.98 426.25,313.71 Q427.40,314.45 426.25,315.18 Q425.10,315.91 426.25,316.64 Q427.40,317.38 426.25,318.11 Q425.10,318.84 426.25,319.57 Q427.40,320.30 426.25,321.04 Q425.10,321.77 426.25,322.50 Q427.40,323.23 426.25,323.96 Q425.10,324.70 426.25,325.43 Q427.40,326.16 426.25,326.89 Q425.10,327.63 426.25,328.36 Q427.40,329.09 426.25,329.82 Q425.10,330.55 426.25,331.29 Q427.40,332.02 426.25,332.75 Q425.10,333.48 426.25,334.21 Q427.40,334.95 426.25,335.68 Q425.10,336.41 426.25,337.14 Q427.40,337.88 426.25,338.61 Q425.10,339.34 426.25,340.07 Q427.40,340.80 426.25,341.54 Q425.10,342.27 426.25,343.00 L602.0,343 Z" fill="#c9c9c9"/>
<path d="M534.5,302 L426.25,302 Q427.40,302.73 426.25,303.46 Q425.10,304.20 426.25,304.93 Q427.40,305.66 426.25,306.39 Q425.10,307.12 426.25,307.86 Q427.40,308.59 426.25,309.32 Q425.10,310.05 426.25,310.79 Q427.40,311.52 426.25,312.25 Q425.10,312.98 426.25,313.71 Q427.40,314.45 426.25,315.18 Q425.10,315.91 426.25,316.64 Q427.40,317.38 426.25,318.11 Q425.10,318.84 426.25,319.57 Q427.40,320.30 426.25,321.04 Q425.10,321.77 426.25,322.50 Q427.40,323.23 426.25,323.96 Q425.10,324.70 426.25,325.43 Q427.40,326.16 426.25,326.89 Q425.10,327.63 426.25,328.36 Q427.40,329.09 426.25,329.82 Q425.10,330.55 426.25,331.29 Q427.40,332.02 426.25,332.75 Q425.10,333.48 426.25,334.21 Q427.40,334.95 426.25,335.68 Q425.10,336.41 426.25,337.14 Q427.40,337.88 426.25,338.61 Q425.10,339.34 426.25,340.07 Q427.40,340.80 426.25,341.54 Q425.10,342.27 426.25,343.00 L534.5,343" fill="none" stroke="#525252" stroke-width="1"/>
<line x1="534.5" y1="302" x2="601.25" y2="302" stroke="#525252" stroke-width="0.9" stroke-dasharray="1.8 1.8"/>
<line x1="534.5" y1="343" x2="601.25" y2="343" stroke="#525252" stroke-width="0.9" stroke-dasharray="1.8 1.8"/>
<line x1="601.55" y1="302" x2="601.55" y2="343" stroke="#ffffff" stroke-width="1.1" stroke-dasharray="1.3 1.45"/>
<path d="M39.2,367.8 L78.5,367.8 L78.5,408.5 L39.2,408.5 Q40.35,407.77 39.20,407.05 Q38.05,406.32 39.20,405.59 Q40.35,404.87 39.20,404.14 Q38.05,403.41 39.20,402.69 Q40.35,401.96 39.20,401.23 Q38.05,400.51 39.20,399.78 Q40.35,399.05 39.20,398.33 Q38.05,397.60 39.20,396.87 Q40.35,396.14 39.20,395.42 Q38.05,394.69 39.20,393.96 Q40.35,393.24 39.20,392.51 Q38.05,391.78 39.20,391.06 Q40.35,390.33 39.20,389.60 Q38.05,388.88 39.20,388.15 Q40.35,387.42 39.20,386.70 Q38.05,385.97 39.20,385.24 Q40.35,384.52 39.20,383.79 Q38.05,383.06 39.20,382.34 Q40.35,381.61 39.20,380.88 Q38.05,380.16 39.20,379.43 Q40.35,378.70 39.20,377.98 Q38.05,377.25 39.20,376.52 Q40.35,375.79 39.20,375.07 Q38.05,374.34 39.20,373.61 Q40.35,372.89 39.20,372.16 Q38.05,371.43 39.20,370.71 Q40.35,369.98 39.20,369.25 Q38.05,368.53 39.20,367.80 Z" fill="#969696"/>
<rect x="78.5" y="367.8" width="23.25" height="40.69999999999999" fill="#bababa"/>
<rect x="101.75" y="367.8" width="162.0" height="40.69999999999999" fill="#d4d4d4"/>
<path d="M263.75,367.8 L533.75,367.8 L230,408.5 L263.75,408.5 Z" fill="#e9e9e9"/>
<path d="M263.75,367.8 L533.75,367.8 L263.75,403.98 Z" fill="#e9e9e9"/>
<path d="M263.75,403.98 L349.5,392.49 L349.5,408.5 L263.75,408.5 Z" fill="#e9e9e9"/>
<path d="M230,408.5 L263.75,403.98 L263.75,408.5 Z" fill="#e9e9e9"/>
<path d="M349.5,392.49 L425.5,382.30 L425.5,408.5 L349.5,408.5 Z" fill="#cfcfcf"/>
<path d="M425.5,382.30 L497.5,372.66 L497.5,408.5 L425.5,408.5 Z" fill="#b2b2b2"/>
<path d="M497.5,372.66 L533.75,367.8 L600.6,367.8 L600.6,408.5 L497.5,408.5 Z" fill="#959595"/>
<path d="M39.2,367.8 L600.6,367.8 L600.6,408.5 L39.2,408.5 Q40.35,407.77 39.20,407.05 Q38.05,406.32 39.20,405.59 Q40.35,404.87 39.20,404.14 Q38.05,403.41 39.20,402.69 Q40.35,401.96 39.20,401.23 Q38.05,400.51 39.20,399.78 Q40.35,399.05 39.20,398.33 Q38.05,397.60 39.20,396.87 Q40.35,396.14 39.20,395.42 Q38.05,394.69 39.20,393.96 Q40.35,393.24 39.20,392.51 Q38.05,391.78 39.20,391.06 Q40.35,390.33 39.20,389.60 Q38.05,388.88 39.20,388.15 Q40.35,387.42 39.20,386.70 Q38.05,385.97 39.20,385.24 Q40.35,384.52 39.20,383.79 Q38.05,383.06 39.20,382.34 Q40.35,381.61 39.20,380.88 Q38.05,380.16 39.20,379.43 Q40.35,378.70 39.20,377.98 Q38.05,377.25 39.20,376.52 Q40.35,375.79 39.20,375.07 Q38.05,374.34 39.20,373.61 Q40.35,372.89 39.20,372.16 Q38.05,371.43 39.20,370.71 Q40.35,369.98 39.20,369.25 Q38.05,368.53 39.20,367.80" fill="none" stroke="#585858" stroke-width="1"/>
<line x1="78.5" y1="367.80" x2="78.5" y2="408.50" stroke="#525252" stroke-width="1"/>
<line x1="101.75" y1="367.80" x2="101.75" y2="408.50" stroke="#525252" stroke-width="1"/>
<line x1="263.75" y1="367.80" x2="263.75" y2="403.98" stroke="#525252" stroke-width="1"/>
<line x1="349.5" y1="392.49" x2="349.5" y2="408.50" stroke="#525252" stroke-width="1"/>
<line x1="425.5" y1="382.30" x2="425.5" y2="408.50" stroke="#525252" stroke-width="1"/>
<line x1="497.5" y1="372.66" x2="497.5" y2="408.50" stroke="#525252" stroke-width="1"/>
<line x1="230" y1="408.5" x2="533.75" y2="367.8" stroke="#525252" stroke-width="1"/>
<path d="M78.5,418 L78.5,410.6 M77.0,412.40000000000003 L78.5,410.6 L80.0,412.40000000000003" fill="none" stroke="#525252" stroke-width="0.8"/>
<path d="M101.75,418 L101.75,410.6 M100.25,412.40000000000003 L101.75,410.6 L103.25,412.40000000000003" fill="none" stroke="#525252" stroke-width="0.8"/>
<path d="M263.5,418 L263.5,410.6 M262.0,412.40000000000003 L263.5,410.6 L265.0,412.40000000000003" fill="none" stroke="#525252" stroke-width="0.8"/>
<path d="M349.5,418 L349.5,410.6 M348.0,412.40000000000003 L349.5,410.6 L351.0,412.40000000000003" fill="none" stroke="#525252" stroke-width="0.8"/>
<path d="M425.5,418 L425.5,410.6 M424.0,412.40000000000003 L425.5,410.6 L427.0,412.40000000000003" fill="none" stroke="#525252" stroke-width="0.8"/>
<path d="M497.5,418 L497.5,410.6 M496.0,412.40000000000003 L497.5,410.6 L499.0,412.40000000000003" fill="none" stroke="#525252" stroke-width="0.8"/>
<path d="M229.5,357.3 L229.5,364.8 M228.0,363.0 L229.5,364.8 L231.0,363.0" fill="none" stroke="#525252" stroke-width="0.8"/>
<path d="M287,357.3 L287,364.8 M285.5,363.0 L287,364.8 L288.5,363.0" fill="none" stroke="#525252" stroke-width="0.8"/>
<path d="M449.5,357.3 L449.5,364.8 M448.0,363.0 L449.5,364.8 L451.0,363.0" fill="none" stroke="#525252" stroke-width="0.8"/>
<path d="M488.6,357.3 L488.6,364.8 M487.1,363.0 L488.6,364.8 L490.1,363.0" fill="none" stroke="#525252" stroke-width="0.8"/>
<path d="M493.1,357.3 L493.1,364.8 M491.6,363.0 L493.1,364.8 L494.6,363.0" fill="none" stroke="#525252" stroke-width="0.8"/>
<path d="M39.5,433.8 L610,433.8" stroke="#525252" stroke-width="1" fill="none"/>
<line x1="610.4" y1="17.8" x2="610.4" y2="438.5" stroke="#5a5a5a" stroke-width="0.9"/>
<line x1="39.5" y1="433.8" x2="39.5" y2="438.5" stroke="#525252" stroke-width="1"/>
<line x1="47.89" y1="433.8" x2="47.89" y2="436.4" stroke="#525252" stroke-width="0.8"/>
<line x1="56.28" y1="433.8" x2="56.28" y2="436.4" stroke="#525252" stroke-width="0.8"/>
<line x1="64.67" y1="433.8" x2="64.67" y2="436.4" stroke="#525252" stroke-width="0.8"/>
<line x1="73.06" y1="433.8" x2="73.06" y2="436.4" stroke="#525252" stroke-width="0.8"/>
<line x1="81.45" y1="433.8" x2="81.45" y2="436.4" stroke="#525252" stroke-width="0.8"/>
<line x1="89.84" y1="433.8" x2="89.84" y2="436.4" stroke="#525252" stroke-width="0.8"/>
<line x1="98.23" y1="433.8" x2="98.23" y2="436.4" stroke="#525252" stroke-width="0.8"/>
<line x1="106.62" y1="433.8" x2="106.62" y2="436.4" stroke="#525252" stroke-width="0.8"/>
<line x1="115" y1="433.8" x2="115" y2="438.5" stroke="#525252" stroke-width="1"/>
<line x1="123.40" y1="433.8" x2="123.40" y2="436.4" stroke="#525252" stroke-width="0.8"/>
<line x1="131.79" y1="433.8" x2="131.79" y2="436.4" stroke="#525252" stroke-width="0.8"/>
<line x1="140.18" y1="433.8" x2="140.18" y2="436.4" stroke="#525252" stroke-width="0.8"/>
<line x1="148.57" y1="433.8" x2="148.57" y2="436.4" stroke="#525252" stroke-width="0.8"/>
<line x1="156.96" y1="433.8" x2="156.96" y2="436.4" stroke="#525252" stroke-width="0.8"/>
<line x1="165.35" y1="433.8" x2="165.35" y2="436.4" stroke="#525252" stroke-width="0.8"/>
<line x1="173.74" y1="433.8" x2="173.74" y2="436.4" stroke="#525252" stroke-width="0.8"/>
<line x1="182.12" y1="433.8" x2="182.12" y2="436.4" stroke="#525252" stroke-width="0.8"/>
<line x1="190.75" y1="433.8" x2="190.75" y2="438.5" stroke="#525252" stroke-width="1"/>
<line x1="198.90" y1="433.8" x2="198.90" y2="436.4" stroke="#525252" stroke-width="0.8"/>
<line x1="207.29" y1="433.8" x2="207.29" y2="436.4" stroke="#525252" stroke-width="0.8"/>
<line x1="215.68" y1="433.8" x2="215.68" y2="436.4" stroke="#525252" stroke-width="0.8"/>
<line x1="224.07" y1="433.8" x2="224.07" y2="436.4" stroke="#525252" stroke-width="0.8"/>
<line x1="232.46" y1="433.8" x2="232.46" y2="436.4" stroke="#525252" stroke-width="0.8"/>
<line x1="240.85" y1="433.8" x2="240.85" y2="436.4" stroke="#525252" stroke-width="0.8"/>
<line x1="249.24" y1="433.8" x2="249.24" y2="436.4" stroke="#525252" stroke-width="0.8"/>
<line x1="257.63" y1="433.8" x2="257.63" y2="436.4" stroke="#525252" stroke-width="0.8"/>
<line x1="266.25" y1="433.8" x2="266.25" y2="438.5" stroke="#525252" stroke-width="1"/>
<line x1="274.41" y1="433.8" x2="274.41" y2="436.4" stroke="#525252" stroke-width="0.8"/>
<line x1="282.80" y1="433.8" x2="282.80" y2="436.4" stroke="#525252" stroke-width="0.8"/>
<line x1="291.19" y1="433.8" x2="291.19" y2="436.4" stroke="#525252" stroke-width="0.8"/>
<line x1="299.58" y1="433.8" x2="299.58" y2="436.4" stroke="#525252" stroke-width="0.8"/>
<line x1="349.92" y1="433.8" x2="349.92" y2="436.4" stroke="#525252" stroke-width="0.8"/>
<line x1="358.31" y1="433.8" x2="358.31" y2="436.4" stroke="#525252" stroke-width="0.8"/>
<line x1="366.70" y1="433.8" x2="366.70" y2="436.4" stroke="#525252" stroke-width="0.8"/>
<line x1="375.09" y1="433.8" x2="375.09" y2="436.4" stroke="#525252" stroke-width="0.8"/>
<line x1="383.25" y1="433.8" x2="383.25" y2="438.5" stroke="#525252" stroke-width="1"/>
<line x1="391.87" y1="433.8" x2="391.87" y2="436.4" stroke="#525252" stroke-width="0.8"/>
<line x1="400.26" y1="433.8" x2="400.26" y2="436.4" stroke="#525252" stroke-width="0.8"/>
<line x1="408.65" y1="433.8" x2="408.65" y2="436.4" stroke="#525252" stroke-width="0.8"/>
<line x1="417.04" y1="433.8" x2="417.04" y2="436.4" stroke="#525252" stroke-width="0.8"/>
<line x1="425.43" y1="433.8" x2="425.43" y2="436.4" stroke="#525252" stroke-width="0.8"/>
<line x1="433.82" y1="433.8" x2="433.82" y2="436.4" stroke="#525252" stroke-width="0.8"/>
<line x1="442.21" y1="433.8" x2="442.21" y2="436.4" stroke="#525252" stroke-width="0.8"/>
<line x1="450.60" y1="433.8" x2="450.60" y2="436.4" stroke="#525252" stroke-width="0.8"/>
<line x1="459.25" y1="433.8" x2="459.25" y2="438.5" stroke="#525252" stroke-width="1"/>
<line x1="467.38" y1="433.8" x2="467.38" y2="436.4" stroke="#525252" stroke-width="0.8"/>
<line x1="475.76" y1="433.8" x2="475.76" y2="436.4" stroke="#525252" stroke-width="0.8"/>
<line x1="484.15" y1="433.8" x2="484.15" y2="436.4" stroke="#525252" stroke-width="0.8"/>
<line x1="492.54" y1="433.8" x2="492.54" y2="436.4" stroke="#525252" stroke-width="0.8"/>
<line x1="500.93" y1="433.8" x2="500.93" y2="436.4" stroke="#525252" stroke-width="0.8"/>
<line x1="509.32" y1="433.8" x2="509.32" y2="436.4" stroke="#525252" stroke-width="0.8"/>
<line x1="517.71" y1="433.8" x2="517.71" y2="436.4" stroke="#525252" stroke-width="0.8"/>
<line x1="526.10" y1="433.8" x2="526.10" y2="436.4" stroke="#525252" stroke-width="0.8"/>
<line x1="534.5" y1="433.8" x2="534.5" y2="438.5" stroke="#525252" stroke-width="1"/>
<line x1="542.88" y1="433.8" x2="542.88" y2="436.4" stroke="#525252" stroke-width="0.8"/>
<line x1="551.27" y1="433.8" x2="551.27" y2="436.4" stroke="#525252" stroke-width="0.8"/>
<line x1="559.66" y1="433.8" x2="559.66" y2="436.4" stroke="#525252" stroke-width="0.8"/>
<line x1="568.05" y1="433.8" x2="568.05" y2="436.4" stroke="#525252" stroke-width="0.8"/>
<line x1="576.44" y1="433.8" x2="576.44" y2="436.4" stroke="#525252" stroke-width="0.8"/>
<line x1="584.83" y1="433.8" x2="584.83" y2="436.4" stroke="#525252" stroke-width="0.8"/>
<line x1="593.22" y1="433.8" x2="593.22" y2="436.4" stroke="#525252" stroke-width="0.8"/>
<line x1="601.61" y1="433.8" x2="601.61" y2="436.4" stroke="#525252" stroke-width="0.8"/>
<line x1="610" y1="433.8" x2="610" y2="438.5" stroke="#525252" stroke-width="1"/>
<path d="M379.3,253.3 Q380.45,254.11 379.30,254.92 Q378.15,255.73 379.30,256.54 Q380.45,257.35 379.30,258.16 Q378.15,258.97 379.30,259.78 Q380.45,260.59 379.30,261.40 Q378.15,262.21 379.30,263.02 Q380.45,263.83 379.30,264.64 Q378.15,265.45 379.30,266.26 Q380.45,267.07 379.30,267.88 Q378.15,268.69 379.30,269.50" fill="none" stroke="#3a3a3a" stroke-width="0.7"/>
<path d="M446.75,294.3 Q447.90,293.63 446.75,292.96 Q445.60,292.29 446.75,291.62 Q447.90,290.95 446.75,290.27 Q445.60,289.60 446.75,288.93 Q447.90,288.26 446.75,287.59 Q445.60,286.92 446.75,286.25" fill="none" stroke="#3a3a3a" stroke-width="0.7"/>
<path d="M464.5,286.25 Q465.65,285.58 464.50,284.92 Q463.35,284.25 464.50,283.58 Q465.65,282.92 464.50,282.25 Q463.35,281.58 464.50,280.92 Q465.65,280.25 464.50,279.58 Q463.35,278.92 464.50,278.25" fill="none" stroke="#3a3a3a" stroke-width="0.7"/>
<path d="M493.25,278.25 Q494.40,277.55 493.25,276.85 Q492.10,276.15 493.25,275.45 Q494.40,274.75 493.25,274.05 Q492.10,273.35 493.25,272.65 Q494.40,271.95 493.25,271.25 Q492.10,270.55 493.25,269.85 Q494.40,269.15 493.25,268.45 Q492.10,267.75 493.25,267.05 Q494.40,266.35 493.25,265.65 Q492.10,264.95 493.25,264.25" fill="none" stroke="#3a3a3a" stroke-width="0.7"/>
<path d="M520,264.25 Q521.15,263.58 520.00,262.91 Q518.85,262.23 520.00,261.56 Q521.15,260.89 520.00,260.22 Q518.85,259.55 520.00,258.88 Q521.15,258.20 520.00,257.53 Q518.85,256.86 520.00,256.19 Q521.15,255.52 520.00,254.84 Q518.85,254.17 520.00,253.50" fill="none" stroke="#3a3a3a" stroke-width="0.7"/>
<path d="M272,302 Q273.15,302.73 272.00,303.46 Q270.85,304.20 272.00,304.93 Q273.15,305.66 272.00,306.39 Q270.85,307.12 272.00,307.86 Q273.15,308.59 272.00,309.32 Q270.85,310.05 272.00,310.79 Q273.15,311.52 272.00,312.25 Q270.85,312.98 272.00,313.71 Q273.15,314.45 272.00,315.18 Q270.85,315.91 272.00,316.64 Q273.15,317.38 272.00,318.11 Q270.85,318.84 272.00,319.57 Q273.15,320.30 272.00,321.04 Q270.85,321.77 272.00,322.50 Q273.15,323.23 272.00,323.96 Q270.85,324.70 272.00,325.43 Q273.15,326.16 272.00,326.89 Q270.85,327.63 272.00,328.36 Q273.15,329.09 272.00,329.82 Q270.85,330.55 272.00,331.29 Q273.15,332.02 272.00,332.75 Q270.85,333.48 272.00,334.21 Q273.15,334.95 272.00,335.68 Q270.85,336.41 272.00,337.14 Q273.15,337.88 272.00,338.61 Q270.85,339.34 272.00,340.07 Q273.15,340.80 272.00,341.54 Q270.85,342.27 272.00,343.00" fill="none" stroke="#3a3a3a" stroke-width="0.7"/>
<path d="M232.5,343 Q233.65,342.27 232.50,341.54 Q231.35,340.80 232.50,340.07 Q233.65,339.34 232.50,338.61 Q231.35,337.88 232.50,337.14 Q233.65,336.41 232.50,335.68 Q231.35,334.95 232.50,334.21 Q233.65,333.48 232.50,332.75 Q231.35,332.02 232.50,331.29 Q233.65,330.55 232.50,329.82 Q231.35,329.09 232.50,328.36 Q233.65,327.62 232.50,326.89 Q231.35,326.16 232.50,325.43 Q233.65,324.70 232.50,323.96 Q231.35,323.23 232.50,322.50 Q233.65,321.77 232.50,321.04 Q231.35,320.30 232.50,319.57 Q233.65,318.84 232.50,318.11 Q231.35,317.37 232.50,316.64 Q233.65,315.91 232.50,315.18 Q231.35,314.45 232.50,313.71 Q233.65,312.98 232.50,312.25 Q231.35,311.52 232.50,310.79 Q233.65,310.05 232.50,309.32 Q231.35,308.59 232.50,307.86 Q233.65,307.12 232.50,306.39 Q231.35,305.66 232.50,304.93 Q233.65,304.20 232.50,303.46 Q231.35,302.73 232.50,302.00" fill="none" stroke="#3a3a3a" stroke-width="0.7"/>
<path d="M304.5,302 Q305.65,302.73 304.50,303.46 Q303.35,304.20 304.50,304.93 Q305.65,305.66 304.50,306.39 Q303.35,307.12 304.50,307.86 Q305.65,308.59 304.50,309.32 Q303.35,310.05 304.50,310.79 Q305.65,311.52 304.50,312.25 Q303.35,312.98 304.50,313.71 Q305.65,314.45 304.50,315.18 Q303.35,315.91 304.50,316.64 Q305.65,317.38 304.50,318.11 Q303.35,318.84 304.50,319.57 Q305.65,320.30 304.50,321.04 Q303.35,321.77 304.50,322.50 Q305.65,323.23 304.50,323.96 Q303.35,324.70 304.50,325.43 Q305.65,326.16 304.50,326.89 Q303.35,327.63 304.50,328.36 Q305.65,329.09 304.50,329.82 Q303.35,330.55 304.50,331.29 Q305.65,332.02 304.50,332.75 Q303.35,333.48 304.50,334.21 Q305.65,334.95 304.50,335.68 Q303.35,336.41 304.50,337.14 Q305.65,337.88 304.50,338.61 Q303.35,339.34 304.50,340.07 Q305.65,340.80 304.50,341.54 Q303.35,342.27 304.50,343.00" fill="none" stroke="#3a3a3a" stroke-width="0.7"/>
<path d="M294.5,343 Q295.65,342.27 294.50,341.54 Q293.35,340.80 294.50,340.07 Q295.65,339.34 294.50,338.61 Q293.35,337.88 294.50,337.14 Q295.65,336.41 294.50,335.68 Q293.35,334.95 294.50,334.21 Q295.65,333.48 294.50,332.75 Q293.35,332.02 294.50,331.29 Q295.65,330.55 294.50,329.82 Q293.35,329.09 294.50,328.36 Q295.65,327.62 294.50,326.89 Q293.35,326.16 294.50,325.43 Q295.65,324.70 294.50,323.96 Q293.35,323.23 294.50,322.50 Q295.65,321.77 294.50,321.04 Q293.35,320.30 294.50,319.57 Q295.65,318.84 294.50,318.11 Q293.35,317.37 294.50,316.64 Q295.65,315.91 294.50,315.18 Q293.35,314.45 294.50,313.71 Q295.65,312.98 294.50,312.25 Q293.35,311.52 294.50,310.79 Q295.65,310.05 294.50,309.32 Q293.35,308.59 294.50,307.86 Q295.65,307.12 294.50,306.39 Q293.35,305.66 294.50,304.93 Q295.65,304.20 294.50,303.46 Q293.35,302.73 294.50,302.00" fill="none" stroke="#3a3a3a" stroke-width="0.7"/>
<path d="M426.25,302 Q427.40,302.73 426.25,303.46 Q425.10,304.20 426.25,304.93 Q427.40,305.66 426.25,306.39 Q425.10,307.12 426.25,307.86 Q427.40,308.59 426.25,309.32 Q425.10,310.05 426.25,310.79 Q427.40,311.52 426.25,312.25 Q425.10,312.98 426.25,313.71 Q427.40,314.45 426.25,315.18 Q425.10,315.91 426.25,316.64 Q427.40,317.38 426.25,318.11 Q425.10,318.84 426.25,319.57 Q427.40,320.30 426.25,321.04 Q425.10,321.77 426.25,322.50 Q427.40,323.23 426.25,323.96 Q425.10,324.70 426.25,325.43 Q427.40,326.16 426.25,326.89 Q425.10,327.63 426.25,328.36 Q427.40,329.09 426.25,329.82 Q425.10,330.55 426.25,331.29 Q427.40,332.02 426.25,332.75 Q425.10,333.48 426.25,334.21 Q427.40,334.95 426.25,335.68 Q425.10,336.41 426.25,337.14 Q427.40,337.88 426.25,338.61 Q425.10,339.34 426.25,340.07 Q427.40,340.80 426.25,341.54 Q425.10,342.27 426.25,343.00" fill="none" stroke="#3a3a3a" stroke-width="0.7"/>
<path d="M39.2,408.5 Q40.35,407.77 39.20,407.05 Q38.05,406.32 39.20,405.59 Q40.35,404.87 39.20,404.14 Q38.05,403.41 39.20,402.69 Q40.35,401.96 39.20,401.23 Q38.05,400.51 39.20,399.78 Q40.35,399.05 39.20,398.33 Q38.05,397.60 39.20,396.87 Q40.35,396.14 39.20,395.42 Q38.05,394.69 39.20,393.96 Q40.35,393.24 39.20,392.51 Q38.05,391.78 39.20,391.06 Q40.35,390.33 39.20,389.60 Q38.05,388.88 39.20,388.15 Q40.35,387.42 39.20,386.70 Q38.05,385.97 39.20,385.24 Q40.35,384.52 39.20,383.79 Q38.05,383.06 39.20,382.34 Q40.35,381.61 39.20,380.88 Q38.05,380.16 39.20,379.43 Q40.35,378.70 39.20,377.98 Q38.05,377.25 39.20,376.52 Q40.35,375.79 39.20,375.07 Q38.05,374.34 39.20,373.61 Q40.35,372.89 39.20,372.16 Q38.05,371.43 39.20,370.71 Q40.35,369.98 39.20,369.25 Q38.05,368.53 39.20,367.80" fill="none" stroke="#3a3a3a" stroke-width="0.7"/>
<text x="23.1" y="447.29" font-size="7.5" font-weight="normal" font-style="normal" fill="#4a4a4a" textLength="33.2" lengthAdjust="spacingAndGlyphs">10 million</text>
<text x="101.28" y="447.29" font-size="7.5" font-weight="normal" font-style="normal" fill="#4a4a4a" textLength="28.25" lengthAdjust="spacingAndGlyphs">1 million</text>
<text x="176.78" y="448.79" font-size="7.5" font-weight="normal" font-style="normal" fill="#4a4a4a" textLength="28.25" lengthAdjust="spacingAndGlyphs">100,000</text>
<text x="254.52" y="447.99" font-size="7.5" font-weight="normal" font-style="normal" fill="#4a4a4a" textLength="23.75" lengthAdjust="spacingAndGlyphs">10,000</text>
<text x="373.75" y="447.29" font-size="7.5" font-weight="normal" font-style="normal" fill="#4a4a4a" textLength="19.5" lengthAdjust="spacingAndGlyphs">1,000</text>
<text x="453.27" y="447.29" font-size="7.5" font-weight="normal" font-style="normal" fill="#4a4a4a" textLength="12.25" lengthAdjust="spacingAndGlyphs">100</text>
<text x="527.48" y="447.29" font-size="7.5" font-weight="normal" font-style="normal" fill="#4a4a4a" textLength="14.25" lengthAdjust="spacingAndGlyphs">Now</text>
<text x="604.25" y="447.29" font-size="7.5" font-weight="normal" font-style="normal" fill="#4a4a4a" textLength="12.5" lengthAdjust="spacingAndGlyphs">100</text>
<text x="208.75" y="460.88" font-size="7.5" font-weight="normal" font-style="normal" fill="#4a4a4a" textLength="39.5" lengthAdjust="spacingAndGlyphs">Past (years)</text>
<text x="548.75" y="460.88" font-size="7.5" font-weight="normal" font-style="normal" fill="#4a4a4a" textLength="47.5" lengthAdjust="spacingAndGlyphs">Future (years)</text>
<text x="71.95" y="424.79" font-size="6.4" font-weight="normal" font-style="normal" fill="#4a4a4a" textLength="13.1" lengthAdjust="spacingAndGlyphs">5.33</text>
<text x="95.35" y="424.79" font-size="6.4" font-weight="normal" font-style="normal" fill="#4a4a4a" textLength="13.1" lengthAdjust="spacingAndGlyphs">2.58</text>
<text x="248.25" y="424.79" font-size="6.4" font-weight="normal" font-style="normal" fill="#4a4a4a" textLength="31.0" lengthAdjust="spacingAndGlyphs">11,700 BP</text>
<text x="348" y="424.79" font-size="6.4" font-weight="normal" font-style="normal" fill="#4a4a4a" textLength="27" lengthAdjust="spacingAndGlyphs">5,020 BP</text>
<text x="418.0" y="424.79" font-size="6.4" font-weight="normal" font-style="normal" fill="#4a4a4a" textLength="15.0" lengthAdjust="spacingAndGlyphs">1610</text>
<text x="490.0" y="424.79" font-size="6.4" font-weight="normal" font-style="normal" fill="#4a4a4a" textLength="15.0" lengthAdjust="spacingAndGlyphs">1964</text>
<text x="561.25" y="424.79" font-size="6.4" font-weight="normal" font-style="normal" fill="#4a4a4a" textLength="18.0" lengthAdjust="spacingAndGlyphs">GSSPs</text>
<text x="214.5" y="355.99" font-size="6.4" font-weight="normal" font-style="normal" fill="#4a4a4a" textLength="31.0" lengthAdjust="spacingAndGlyphs">50,000 BP</text>
<text x="275" y="355.99" font-size="6.4" font-weight="normal" font-style="normal" fill="#4a4a4a" textLength="26.75" lengthAdjust="spacingAndGlyphs">8,000 BP</text>
<text x="441.25" y="355.99" font-size="6.4" font-weight="normal" font-style="normal" fill="#4a4a4a" textLength="15.0" lengthAdjust="spacingAndGlyphs">1800</text>
<text x="474.25" y="355.99" font-size="6.4" font-weight="normal" font-style="normal" fill="#4a4a4a" textLength="15.0" lengthAdjust="spacingAndGlyphs">1945</text>
<text x="493" y="355.99" font-size="6.4" font-weight="normal" font-style="normal" fill="#4a4a4a" textLength="15" lengthAdjust="spacingAndGlyphs">1950</text>
<text x="561.0" y="355.99" font-size="6.4" font-weight="normal" font-style="normal" fill="#4a4a4a" textLength="18.5" lengthAdjust="spacingAndGlyphs">GSSAs</text>
<text x="163.75" y="390.54" font-size="8.2" font-weight="normal" font-style="normal" fill="#4a4a4a" textLength="38.25" lengthAdjust="spacingAndGlyphs">Pleistocene</text>
<text x="358.75" y="380.54" font-size="8.2" font-weight="normal" font-style="normal" fill="#4a4a4a" textLength="43.25" lengthAdjust="spacingAndGlyphs">Holocene (?)</text>
<text x="406.5" y="398.72" text-anchor="middle" font-size="7.6" fill="#474747">A</text>
<text x="418" y="398.72" text-anchor="middle" font-size="7.6" fill="#474747">n</text>
<text x="428.5" y="398.72" text-anchor="middle" font-size="7.6" fill="#474747">t</text>
<text x="438.75" y="398.72" text-anchor="middle" font-size="7.6" fill="#474747">h</text>
<text x="449.25" y="398.72" text-anchor="middle" font-size="7.6" fill="#474747">r</text>
<text x="459.5" y="398.72" text-anchor="middle" font-size="7.6" fill="#474747">o</text>
<text x="470.75" y="398.72" text-anchor="middle" font-size="7.6" fill="#474747">p</text>
<text x="482" y="398.72" text-anchor="middle" font-size="7.6" fill="#474747">o</text>
<text x="492.5" y="398.72" text-anchor="middle" font-size="7.6" fill="#474747">c</text>
<text x="503.75" y="398.72" text-anchor="middle" font-size="7.6" fill="#474747">e</text>
<text x="514.5" y="398.72" text-anchor="middle" font-size="7.6" fill="#474747">n</text>
<text x="525.5" y="398.72" text-anchor="middle" font-size="7.6" fill="#474747">e</text>
<text x="536.25" y="398.72" text-anchor="middle" font-size="7.6" fill="#474747">(</text>
<text x="541.25" y="398.72" text-anchor="middle" font-size="7.6" fill="#474747">?</text>
<text x="546.25" y="398.72" text-anchor="middle" font-size="7.6" fill="#474747">)</text>
<text transform="translate(62.0,387.6) rotate(-90)" x="-14.2" textLength="28.4" lengthAdjust="spacingAndGlyphs" font-size="7.8" fill="#4a4a4a">Miocene</text>
<text transform="translate(94.0,387.6) rotate(-90)" x="-14.4" textLength="28.8" lengthAdjust="spacingAndGlyphs" font-size="7.8" fill="#4a4a4a">Pliocene</text>
<text transform="translate(256,267.1) rotate(90)" x="-13.4" textLength="26.8" lengthAdjust="spacingAndGlyphs" font-size="6.6" fill="#4a4a4a">Ceramics</text>
<text x="60" y="259.79" font-size="6.4" font-weight="bold" font-style="normal" fill="#222222" textLength="45.5" lengthAdjust="spacing">TECHNOLOGY</text>
<text x="38.5" y="324.09" font-size="6.4" font-weight="bold" font-style="normal" fill="#222222" textLength="37.25" lengthAdjust="spacing">BIOSPHERE</text>
<text x="150" y="222.79" font-size="6.4" font-weight="bold" font-style="normal" fill="#222222" textLength="85" lengthAdjust="spacing">SPREAD OF AGRICULTURE</text>
<text x="235" y="161.09" font-size="6.4" font-weight="bold" font-style="normal" fill="#222222" textLength="54.6" lengthAdjust="spacing">DEFORESTATION</text>
<text x="359" y="97.99" font-size="6.4" font-weight="bold" font-style="normal" fill="#222222" textLength="59" lengthAdjust="spacing">ATMOSPHERIC CO</text>
<text x="418.6" y="98.3" font-size="3.9" font-weight="bold" font-style="normal" fill="#222222" textLength="2.9" lengthAdjust="spacingAndGlyphs">2</text>
<text x="391.5" y="37.39" font-size="6.4" font-weight="bold" font-style="normal" fill="#222222" textLength="58.9" lengthAdjust="spacing">ATMOSPHERIC CH</text>
<text x="451" y="37.7" font-size="3.9" font-weight="bold" font-style="normal" fill="#222222" textLength="3" lengthAdjust="spacingAndGlyphs">4</text>
<text x="60" y="274.11" font-size="6.6" font-weight="normal" font-style="normal" fill="#4a4a4a" textLength="30" lengthAdjust="spacingAndGlyphs">First stone</text>
<text x="76.25" y="281.11" font-size="6.6" font-weight="normal" font-style="normal" fill="#4a4a4a" textLength="13.75" lengthAdjust="spacingAndGlyphs">tools</text>
<text x="147" y="281.11" font-size="6.6" font-weight="normal" font-style="normal" fill="#4a4a4a" textLength="10.5" lengthAdjust="spacingAndGlyphs">Fire</text>
<text x="200" y="274.11" font-size="6.6" font-weight="normal" font-style="normal" fill="#4a4a4a" textLength="32.5" lengthAdjust="spacingAndGlyphs">Cumulative</text>
<text x="212.5" y="281.11" font-size="6.6" font-weight="normal" font-style="normal" fill="#4a4a4a" textLength="20.0" lengthAdjust="spacingAndGlyphs">culture</text>
<text x="85.75" y="329.86" font-size="6.6" font-weight="normal" font-style="italic" fill="#4a4a4a" textLength="37.5" lengthAdjust="spacingAndGlyphs">Homo erectus</text>
<text x="163.5" y="329.86" font-size="6.6" font-weight="normal" font-style="italic" fill="#4a4a4a" textLength="38.0" lengthAdjust="spacingAndGlyphs">Homo sapiens</text>
<text x="236.25" y="321.06" font-size="6.6" font-weight="normal" font-style="normal" fill="#4a4a4a" textLength="31.75" lengthAdjust="spacingAndGlyphs">Megafauna</text>
<text x="237.5" y="328.06" font-size="6.6" font-weight="normal" font-style="normal" fill="#4a4a4a" textLength="29.5" lengthAdjust="spacingAndGlyphs">extinction</text>
<text x="248.75" y="234.11" font-size="6.6" font-weight="normal" font-style="normal" fill="#4a4a4a" textLength="23.25" lengthAdjust="spacingAndGlyphs">SW Asia</text>
<text x="250" y="241.36" font-size="6.6" font-weight="normal" font-style="normal" fill="#4a4a4a" textLength="20" lengthAdjust="spacingAndGlyphs">Europe</text>
<text x="280.75" y="226.61" font-size="6.6" font-weight="normal" font-style="normal" fill="#4a4a4a" textLength="16.75" lengthAdjust="spacingAndGlyphs">China</text>
<text x="281.75" y="234.11" font-size="6.6" font-weight="normal" font-style="normal" fill="#4a4a4a" textLength="13.25" lengthAdjust="spacingAndGlyphs">Latin</text>
<text x="277" y="241.36" font-size="6.6" font-weight="normal" font-style="normal" fill="#4a4a4a" textLength="24.25" lengthAdjust="spacingAndGlyphs">America</text>
<text x="351.25" y="226.86" font-size="6.6" font-weight="normal" font-style="normal" fill="#4a4a4a" textLength="16.75" lengthAdjust="spacingAndGlyphs">North</text>
<text x="350.75" y="234.36" font-size="6.6" font-weight="normal" font-style="normal" fill="#4a4a4a" textLength="17.5" lengthAdjust="spacingAndGlyphs">Africa</text>
<text x="376.25" y="219.36" font-size="6.6" font-weight="normal" font-style="normal" fill="#4a4a4a" textLength="17.0" lengthAdjust="spacingAndGlyphs">North</text>
<text x="372.5" y="226.86" font-size="6.6" font-weight="normal" font-style="normal" fill="#4a4a4a" textLength="24.5" lengthAdjust="spacingAndGlyphs">America</text>
<text x="503.75" y="221.11" font-size="6.6" font-weight="normal" font-style="normal" fill="#4a4a4a" textLength="20.5" lengthAdjust="spacingAndGlyphs">Rest of</text>
<text x="491.75" y="228.61" font-size="6.6" font-weight="normal" font-style="normal" fill="#4a4a4a" textLength="44.5" lengthAdjust="spacingAndGlyphs">North America,</text>
<text x="491.25" y="236.11" font-size="6.6" font-weight="normal" font-style="normal" fill="#4a4a4a" textLength="45.75" lengthAdjust="spacingAndGlyphs">Oceania, Africa</text>
<text x="359.25" y="275.86" font-size="6.6" font-weight="normal" font-style="normal" fill="#4a4a4a" textLength="17.0" lengthAdjust="spacingAndGlyphs">Crops</text>
<text x="359.25" y="283.36" font-size="6.6" font-weight="normal" font-style="normal" fill="#4a4a4a" textLength="37.25" lengthAdjust="spacingAndGlyphs">and livestock</text>
<text x="359.25" y="290.86" font-size="6.6" font-weight="normal" font-style="normal" fill="#4a4a4a" textLength="40.75" lengthAdjust="spacingAndGlyphs">domestication</text>
<text x="459.25" y="267.36" font-size="6.6" font-weight="normal" font-style="normal" fill="#4a4a4a" textLength="27.0" lengthAdjust="spacingAndGlyphs">Industrial</text>
<text x="455.75" y="274.06" font-size="6.6" font-weight="normal" font-style="normal" fill="#4a4a4a" textLength="30.5" lengthAdjust="spacingAndGlyphs">Revolution</text>
<text x="542.5" y="272.86" font-size="6.6" font-weight="normal" font-style="normal" fill="#4a4a4a" textLength="34.5" lengthAdjust="spacingAndGlyphs">Information</text>
<text x="544.5" y="279.86" font-size="6.6" font-weight="normal" font-style="normal" fill="#4a4a4a" textLength="30.5" lengthAdjust="spacingAndGlyphs">Revolution</text>
<text x="476.75" y="321.11" font-size="6.6" font-weight="normal" font-style="normal" fill="#4a4a4a" textLength="74.0" lengthAdjust="spacingAndGlyphs">Homogenization of biota,</text>
<text x="469.25" y="328.06" font-size="6.6" font-weight="normal" font-style="normal" fill="#4a4a4a" textLength="88.75" lengthAdjust="spacingAndGlyphs">invasive species and extinction</text>
<text x="540.2" y="26.68" font-size="7.2" font-weight="normal" font-style="normal" fill="#4a4a4a" textLength="3.6" lengthAdjust="spacingAndGlyphs">?</text>
<text x="540.2" y="87.08" font-size="7.2" font-weight="normal" font-style="normal" fill="#4a4a4a" textLength="3.6" lengthAdjust="spacingAndGlyphs">?</text>
<text x="546.0" y="150.08" font-size="7.2" font-weight="normal" font-style="normal" fill="#4a4a4a" textLength="3.6" lengthAdjust="spacingAndGlyphs">?</text>
</svg>
</body></html>
